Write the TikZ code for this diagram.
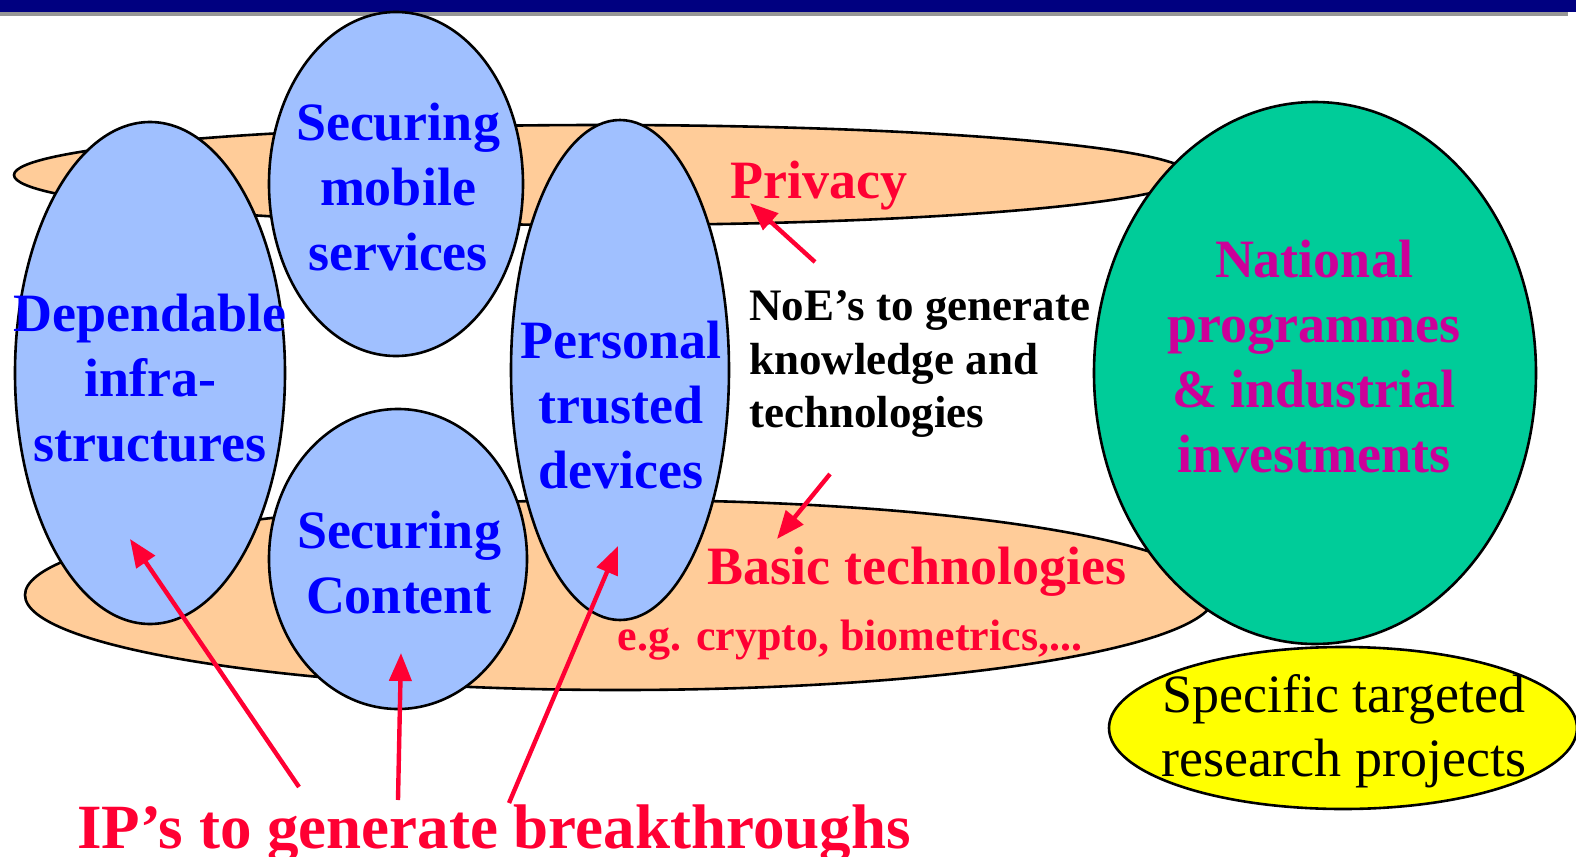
\documentclass[tikz,border=0pt]{standalone}
\usepackage{fontspec}
\setmainfont{Liberation Serif}
\usetikzlibrary{arrows.meta,shapes.geometric}
\definecolor{navyish}{RGB}{0, 0, 128}
\definecolor{greyish}{RGB}{150, 150, 150}
\definecolor{peachish}{RGB}{255, 204, 153}
\definecolor{skyish}{RGB}{160, 192, 255}
\definecolor{tealish}{RGB}{0, 204, 153}
\definecolor{lemonish}{RGB}{255, 255, 0}
\definecolor{redish}{RGB}{255, 0, 51}
\definecolor{magentaish}{RGB}{204, 0, 153}
\definecolor{blueish}{RGB}{0, 0, 255}
\tikzset{
  blob/.style = {ellipse, draw=black, line width=1.3pt, inner sep=0pt, outer sep=0pt},
  ov_band/.style = {blob, fill=peachish},% bande orange
  ov_ip/.style = {blob, fill=skyish},% ellipse bleue
  ov_nat/.style = {blob, fill=tealish},
  ov_str/.style = {blob, fill=lemonish},
  txt/.style = {align=center, inner sep=0pt,
    font=\bfseries\fontsize{27}{32.5}\selectfont},
  txt_ip/.style = {txt, blueish},
  txt_red/.style = {txt, redish},
  txt_small/.style = {align=left, inner sep=0pt, black,
    font=\bfseries\fontsize{22.5}{26.75}\selectfont},
  arr/.style = {->, redish, line width=2.2pt},
}

\begin{document}
\begin{tikzpicture}[>={Triangle[length=14pt,width=11pt]},
  x=0.5pt, y=-0.5pt,
]
\useasboundingbox (0,0) rectangle (1576,857);
% title bar
\fill[navyish] (0,0) rectangle (1576,12);
\fill[greyish] (0,12) rectangle (1568,16);

% bands
\node [ov_band, minimum width=588pt, minimum height=50pt] (privacy_b) at (602,175) {};
\node [ov_band, minimum width=595pt, minimum height=95pt] (basic_b) at (620,595) {};

% IP ellipses
\node [ov_ip, minimum width=135pt, minimum height=251pt] (dep) at (150,373) {};
\node [ov_ip, minimum width=127pt, minimum height=172pt] (mob) at (396,184) {};
\node [ov_ip, minimum width=129pt, minimum height=150pt] (cont) at (398,559) {};
\node [ov_ip, minimum width=109pt, minimum height=250pt] (dev) at (620,370) {};

\node [ov_nat, minimum width=221pt, minimum height=271pt] (nat) at (1315,373) {};
\node [ov_str, minimum width=234pt, minimum height=81pt] (str) at (1343,728) {};

% texts
\node [txt_ip] (dep_t) at (150,378) {Dependable\\infra-\\structures};
\node [txt_ip] (mob_t) at (398,187) {Securing\\mobile\\services};
\node [txt_ip] (cont_t) at (399,563) {Securing\\Content};
\node [txt_ip] (dev_t) at (621,405) {Personal\\trusted\\devices};
\node [txt, magentaish] (nat_t) at (1314,357) {National\\programmes\\\& industrial\\investments};
\node [txt, font=\fontsize{27}{32}\selectfont] (str_t) at (1344,731) {Specific targeted\\research projects};
\node [txt_red] (privacy_t) at (819,186) {Privacy};
\node [txt_red] (basic_t) at (917,572) {Basic technologies};
\node [txt_red, font=\bfseries\fontsize{22}{26}\selectfont] (crypto_t) at (850,640) {e.g. crypto, biometrics,...};
\node [txt_small, anchor=west] (noe_t) at (749,364) {NoE's to generate\\knowledge and\\technologies};
\node [txt_red, font=\bfseries\fontsize{31.5}{36}\selectfont] (ips_t) at (494,834) {IP's to generate breakthroughs};

% arrows
\coordinate (privacy_tail) at (815,262);
\coordinate (privacy_tip) at (750,203);
\coordinate (basic_tail) at (830,474);
\coordinate (basic_tip) at (777,539);
\coordinate (ip_l) at (299,787);
\coordinate (dep_tip) at (130,539);
\coordinate (ip_m) at (398,800);
\coordinate (cont_tip) at (401,653);
\coordinate (ip_r) at (509,803);
\coordinate (dev_tip) at (618,546);
\draw [arr] (privacy_tail) -- (privacy_tip);
\draw [arr] (basic_tail) -- (basic_tip);
\draw [arr] (ip_l) -- (dep_tip);
\draw [arr] (ip_m) -- (cont_tip);
\draw [arr] (ip_r) -- (dev_tip);
\end{tikzpicture}
\end{document}
